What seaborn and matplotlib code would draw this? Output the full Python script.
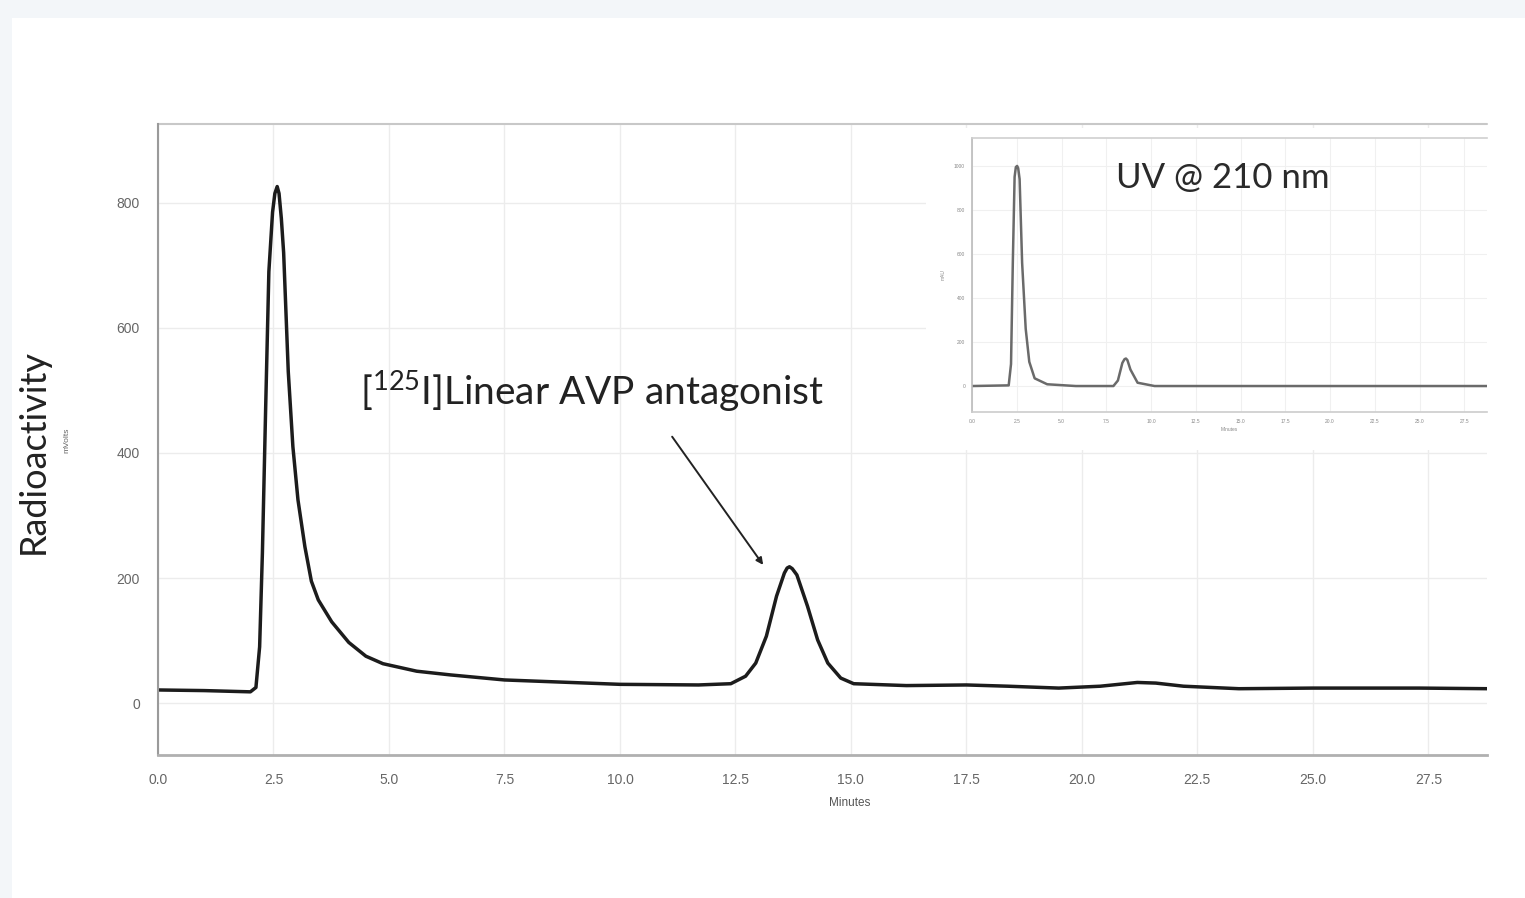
import numpy as np
import pandas as pd
import matplotlib
matplotlib.use("Agg")
import matplotlib.pyplot as plt
from matplotlib.ticker import MultipleLocator, FixedLocator
import seaborn as sns

# ---------------- data ----------------
main_minutes = [0.0, 1.0, 2.0, 2.12, 2.2, 2.26, 2.33, 2.4, 2.48, 2.53, 2.58, 2.62, 2.67,
                2.72, 2.82, 2.92, 3.03, 3.18, 3.32, 3.47, 3.76, 4.13, 4.5, 4.87, 5.6,
                6.34, 7.5, 10.0, 11.7, 12.4, 12.72, 12.94, 13.17, 13.39, 13.56, 13.62,
                13.67, 13.73, 13.83, 14.06, 14.28, 14.5, 14.78, 15.06, 16.2, 17.5, 18.4,
                19.5, 20.4, 21.2, 21.6, 22.2, 23.4, 25.0, 27.3, 28.8]
main_mvolts = [21, 20, 18, 25, 90, 240, 470, 690, 785, 815, 826, 815, 775,
               720, 530, 410, 325, 250, 195, 165, 130, 97, 75, 63, 51,
               45, 37, 30, 29, 31, 43, 64, 107, 171, 208, 216,
               218, 215, 205, 155, 101, 64, 40, 31, 28, 29, 27,
               24, 27, 33, 32, 27, 23, 24, 24, 23]

uv_minutes = [0.0, 2.05, 2.18, 2.28, 2.38, 2.45, 2.52, 2.58, 2.66, 2.8, 3.0, 3.2, 3.5,
              4.2, 5.8, 7.9, 8.15, 8.4, 8.52, 8.6, 8.68, 8.85, 9.25, 10.2, 28.8]
uv_mau = [0, 3, 100, 560, 950, 995, 1000, 990, 940, 560, 260, 110, 35,
          8, 0, 0, 25, 105, 122, 125, 118, 75, 15, 0, 0]

x_ticks = [0.0, 2.5, 5.0, 7.5, 10.0, 12.5, 15.0, 17.5, 20.0, 22.5, 25.0, 27.5]
y_ticks = [0, 200, 400, 600, 800]
uv_y_ticks = [0, 200, 400, 600, 800, 1000]

annotation_text = r"[$\mathregular{^{125}}$I]Linear AVP antagonist"
inset_title = "UV @ 210 nm"

# ---------------- style ----------------
sns.set_style("white")
plt.rcParams["font.family"] = ["Liberation Sans", "DejaVu Sans"]
plt.rcParams["mathtext.fontset"] = "custom"
plt.rcParams["mathtext.rm"] = "Lato"
plt.rcParams["mathtext.it"] = "Lato:italic"
plt.rcParams["mathtext.bf"] = "Lato:bold"

W, H = 1525, 898
fig = plt.figure(figsize=(W / 100, H / 100), dpi=100)
fig.patch.set_facecolor("#f3f6f9")


def fx(px):
    return px / W


def fy(py):
    return 1 - py / H


# white page area (behind everything)
page = fig.add_axes([fx(12), 0, 1 - fx(12), fy(18)], zorder=-5)
page.set_facecolor("white")
page.set_xticks([])
page.set_yticks([])
for s in page.spines.values():
    s.set_visible(False)

# main axes
ax = fig.add_axes([fx(158), fy(755), fx(1487) - fx(158), fy(124) - fy(755)], zorder=1)
ax.set_facecolor("white")
df_main = pd.DataFrame({"Minutes": main_minutes, "mVolts": main_mvolts})
sns.lineplot(data=df_main, x="Minutes", y="mVolts", ax=ax, color="#1c1c1c",
             linewidth=2.5, estimator=None, sort=False)
ax.set_xlim(0, 28.77)
ax.set_ylim(-83, 926)
ax.xaxis.set_major_locator(FixedLocator(x_ticks))
ax.set_xticklabels([f"{t:.1f}" for t in x_ticks])
ax.yaxis.set_major_locator(FixedLocator(y_ticks))
ax.set_yticklabels([str(t) for t in y_ticks])
ax.xaxis.set_minor_locator(MultipleLocator(0.5))
ax.yaxis.set_minor_locator(MultipleLocator(50))
ax.grid(True, which="major", color="#ececec", linewidth=1.0)
ax.tick_params(axis="both", which="major", direction="out", length=5, width=1,
               color="#999999", labelcolor="#666666", labelsize=10, pad=8)
ax.tick_params(axis="both", which="minor", direction="out", length=3, width=0.8,
               color="#b0b0b0")
for s in ["top", "right"]:
    ax.spines[s].set_visible(False)
ax.spines["left"].set_color("#9a9a9a")
ax.spines["bottom"].set_color("#b0b0b0")
ax.spines["left"].set_linewidth(1.5)
ax.spines["bottom"].set_linewidth(2.0)
ax.set_xlabel("")
ax.set_ylabel("")
ax.plot([0, 1], [1, 1], transform=ax.transAxes, color="#c8c8c8", lw=1.5, clip_on=False)

ax.annotate("", xy=(13.1, 221), xytext=(11.13, 426),
            arrowprops=dict(arrowstyle="-|>", color="#222222", lw=1.4,
                            mutation_scale=10, shrinkA=0, shrinkB=0))
ax.text(4.37, 498, annotation_text, fontsize=28, family="Lato", color="#222222",
        ha="left", va="center")

fig.text(fx(33), fy(452), "Radioactivity", rotation=90, fontsize=26, family="Lato",
         color="#222222", ha="center", va="center")
fig.text(fx(67), fy(440), "mVolts", rotation=90, fontsize=6, color="#666666",
         ha="center", va="center")
fig.text(fx(850), fy(803), "Minutes", fontsize=8.5, color="#555555",
         ha="center", va="center")

# white backing behind the inset picture
back = fig.add_axes([fx(926), fy(450), fx(1490) - fx(926), fy(128) - fy(450)], zorder=2)
back.set_facecolor("white")
back.set_xticks([])
back.set_yticks([])
for s in back.spines.values():
    s.set_visible(False)

# inset
ins = fig.add_axes([fx(972), fy(412), fx(1487) - fx(972), fy(138) - fy(412)], zorder=3)
ins.set_facecolor("white")
df_uv = pd.DataFrame({"Minutes": uv_minutes, "mAU": uv_mau})
sns.lineplot(data=df_uv, x="Minutes", y="mAU", ax=ins, color="#6a6a6a",
             linewidth=1.8, estimator=None, sort=False)
ins.set_xlim(0, 28.77)
ins.set_ylim(-118, 1127)
ins.xaxis.set_major_locator(FixedLocator(x_ticks))
ins.set_xticklabels([f"{t:.1f}" for t in x_ticks])
ins.yaxis.set_major_locator(FixedLocator(uv_y_ticks))
ins.set_yticklabels([str(t) for t in uv_y_ticks])
ins.grid(True, which="major", color="#f0f0f0", linewidth=0.8)
ins.tick_params(axis="both", which="major", direction="out", length=2, width=0.8,
                color="#aaaaaa", labelcolor="#888888", labelsize=3.5, pad=3)
ins.spines["right"].set_visible(False)
ins.spines["top"].set_color("#d0d0d0")
ins.spines["left"].set_color("#bbbbbb")
ins.spines["bottom"].set_color("#cccccc")
for s in ["top", "left", "bottom"]:
    ins.spines[s].set_linewidth(1.2)
ins.set_xlabel("Minutes", fontsize=3.5, color="#888888", labelpad=2)
ins.set_ylabel("mAU", fontsize=3.5, color="#888888", labelpad=6)
ins.text((1223 - 972) / (1487 - 972), (412 - 178) / (412 - 138), inset_title,
         transform=ins.transAxes, fontsize=25, family="Lato",
         color="#2a2a2a", ha="center", va="center")

fig.savefig("out.png", dpi=100, facecolor=fig.get_facecolor())
